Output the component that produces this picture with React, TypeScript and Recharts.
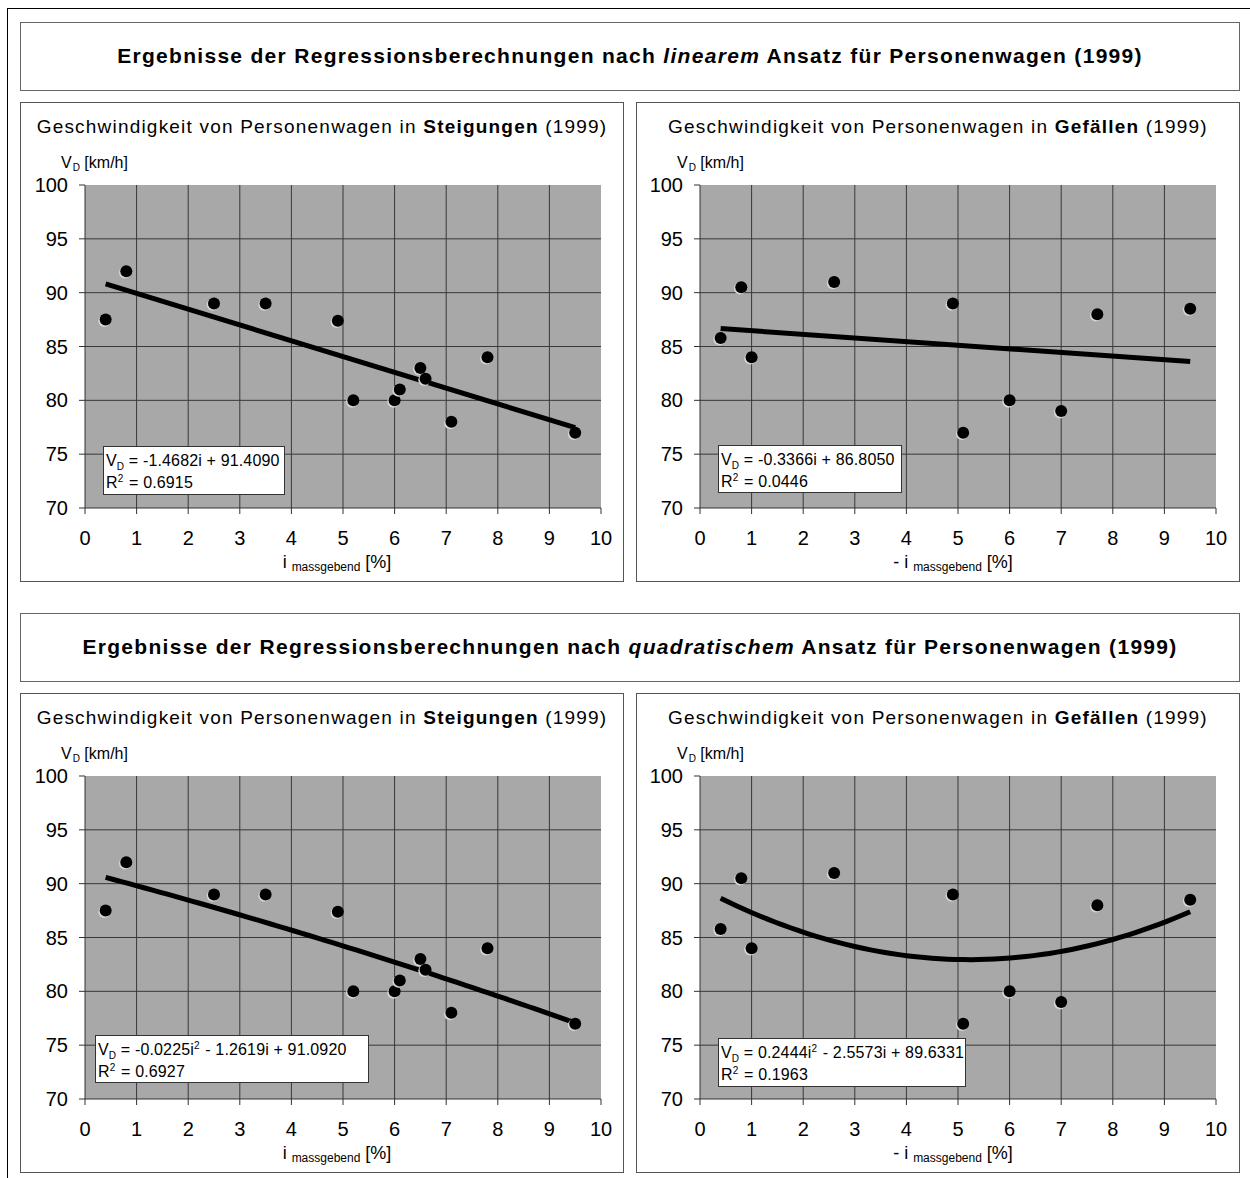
import React from 'react';
import { ScatterChart, Scatter, XAxis, YAxis, CartesianGrid } from 'recharts';

// Messwerte Personenwagen 1999: Längsneigung i [%] und Geschwindigkeit V_D [km/h]
const steigI = [0.4, 0.8, 2.5, 3.5, 4.9, 5.2, 6.0, 6.1, 6.5, 6.6, 7.1, 7.8, 9.5];
const steigV = [87.5, 92, 89, 89, 87.4, 80, 80, 81, 83, 82, 78, 84, 77];
const gefI = [0.4, 0.8, 1.0, 2.6, 4.9, 5.1, 6.0, 7.0, 7.7, 9.5];
const gefV = [85.8, 90.5, 84, 91, 89, 77, 80, 79, 88, 88.5];

// Regressionskoeffizienten [a, b, c] für V_D = a*i^2 + b*i + c
const linSteig = [0, -1.4682, 91.409];
const linGef = [0, -0.3366, 86.805];
const quadSteig = [-0.0225, -1.2619, 91.092];
const quadGef = [0.2444, -2.5573, 89.6331];

const r2LinSteig = '0.6915';
const r2LinGef = '0.0446';
const r2QuadSteig = '0.6927';
const r2QuadGef = '0.1963';

const xTicks = [0, 1, 2, 3, 4, 5, 6, 7, 8, 9, 10];
const yTicks = [70, 75, 80, 85, 90, 95, 100];

const FONT = '"Liberation Sans", Arial, sans-serif';

type Pt = { i: number; v: number };

const toPoints = (xs: number[], ys: number[]): Pt[] => xs.map((i, k) => ({ i, v: ys[k] }));

// Trendlinie aus den Koeffizienten über den Bereich der Messwerte
function trendPoints(coef: number[], xs: number[]): Pt[] {
  const lo = Math.min(...xs);
  const hi = Math.max(...xs);
  const n = coef[0] === 0 ? 1 : 60;
  const out: Pt[] = [];
  for (let k = 0; k <= n; k++) {
    const i = lo + ((hi - lo) * k) / n;
    out.push({ i, v: coef[0] * i * i + coef[1] * i + coef[2] });
  }
  return out;
}

const subStyle: React.CSSProperties = { fontSize: 10, position: 'relative', top: 4 };
const supStyle: React.CSSProperties = { fontSize: 10, position: 'relative', top: -6, marginRight: 1 };

function Equation({ coef }: { coef: number[] }) {
  const terms: { val: number; pow: number }[] = [];
  if (coef[0] !== 0) terms.push({ val: coef[0], pow: 2 });
  terms.push({ val: coef[1], pow: 1 });
  terms.push({ val: coef[2], pow: 0 });
  return (
    <>
      V<span style={subStyle}>D</span> ={' '}
      {terms.map((t, k) => {
        const num = Math.abs(t.val).toFixed(4);
        const sign = k === 0 ? (t.val < 0 ? '-' : '') : t.val < 0 ? ' - ' : ' + ';
        return (
          <React.Fragment key={k}>
            {sign}
            {num}
            {t.pow > 0 ? 'i' : ''}
            {t.pow === 2 ? <span style={supStyle}>2</span> : null}
          </React.Fragment>
        );
      })}
    </>
  );
}

const Dot = (props: any) => {
  const { cx, cy } = props;
  return (
    <g>
      <circle cx={cx - 1.3} cy={cy + 1.3} r={6} fill="#d6d6d6" />
      <circle cx={cx} cy={cy} r={6} fill="#000" />
    </g>
  );
};

const NoDot = () => <g />;

interface PanelProps {
  x: number;
  y: number;
  plotLeft: number;
  word: string;
  xPrefix: string;
  labelX: number;
  data: Pt[];
  coef: number[];
  r2: string;
  box: number[];
}

function Panel({ x, y, plotLeft, word, xPrefix, labelX, data, coef, r2, box }: PanelProps) {
  const W = 604;
  const H = 480;
  const trend = trendPoints(coef, data.map((d) => d.i));
  const tick = { fill: '#000', fontSize: 20, fontFamily: FONT };
  return (
    <>
      <div
        style={{
          position: 'absolute', left: x, top: y, width: W, height: H,
          border: '1px solid #555', boxSizing: 'border-box', background: '#fff',
        }}
      />
      <div
        style={{
          position: 'absolute', left: x, top: y + 14, width: W, textAlign: 'center',
          fontSize: 19, letterSpacing: 1.2, lineHeight: '22px', fontFamily: FONT, color: '#000',
          whiteSpace: 'nowrap',
        }}
      >
        Geschwindigkeit von Personenwagen in <b>{word}</b> (1999)
      </div>
      <div
        style={{
          position: 'absolute', left: x + 41, top: y + 51, fontSize: 16,
          lineHeight: '20px', fontFamily: FONT, color: '#000', whiteSpace: 'nowrap',
        }}
      >
        V<span style={{ fontSize: 10, position: 'relative', top: 3, marginLeft: 1 }}>D</span> [km/h]
      </div>
      <div style={{ position: 'absolute', left: x, top: y }}>
        <ScatterChart width={W} height={H} margin={{ top: 83, right: W - plotLeft - 516, bottom: 0, left: 0 }}>
          <CartesianGrid
            fill="#a8a8a8"
            fillOpacity={1}
            stroke="#383838"
            strokeWidth={1}
            horizontalValues={[75, 80, 85, 90, 95]}
            verticalValues={[1, 2, 3, 4, 5, 6, 7, 8, 9]}
          />
          <XAxis
            type="number"
            dataKey="i"
            domain={[0, 10]}
            ticks={xTicks}
            interval={0}
            height={H - 83 - 323}
            tickSize={6}
            tickMargin={17}
            axisLine={{ stroke: '#333' }}
            tickLine={{ stroke: '#333' }}
            tick={tick}
            allowDataOverflow
          />
          <YAxis
            type="number"
            dataKey="v"
            domain={[70, 100]}
            ticks={yTicks}
            interval={0}
            width={plotLeft}
            tickSize={6}
            tickMargin={11}
            axisLine={{ stroke: '#333' }}
            tickLine={{ stroke: '#333' }}
            tick={tick}
            allowDataOverflow
          />
          <Scatter
            data={trend}
            line={{ stroke: '#000', strokeWidth: 5 }}
            shape={NoDot}
            isAnimationActive={false}
          />
          <Scatter data={data} shape={Dot} isAnimationActive={false} />
        </ScatterChart>
      </div>
      <div
        style={{
          position: 'absolute', left: labelX - 150, top: y + 449, width: 300, textAlign: 'center',
          fontSize: 18, lineHeight: '22px', fontFamily: FONT, color: '#000', whiteSpace: 'nowrap',
        }}
      >
        {xPrefix}i <span style={{ fontSize: 12, position: 'relative', top: 3 }}>massgebend</span> [%]
      </div>
      <div
        style={{
          position: 'absolute', left: box[0], top: box[1], width: box[2], height: box[3],
          boxSizing: 'border-box', background: '#fff', border: '1px solid #333',
          padding: '4px 0 0 2px', fontSize: 16, letterSpacing: 0.15, lineHeight: '20px',
          fontFamily: FONT, color: '#000', whiteSpace: 'nowrap',
        }}
      >
        <div>
          <Equation coef={coef} />
        </div>
        <div>
          R<span style={supStyle}>2</span> = {r2}
        </div>
      </div>
    </>
  );
}

function TitleBox({ y, word }: { y: number; word: string }) {
  return (
    <div
      style={{
        position: 'absolute', left: 20, top: y, width: 1220, height: 69, border: '1px solid #666',
        boxSizing: 'border-box', textAlign: 'center', lineHeight: '65px', fontSize: 21,
        letterSpacing: 1.3, fontWeight: 'bold', fontFamily: FONT, color: '#000', whiteSpace: 'nowrap',
      }}
    >
      Ergebnisse der Regressionsberechnungen nach <i>{word}</i> Ansatz für Personenwagen (1999)
    </div>
  );
}

export default function App() {
  const steig = toPoints(steigI, steigV);
  const gef = toPoints(gefI, gefV);
  const dy = 591;
  return (
    <div style={{ position: 'absolute', left: 0, top: 0, width: 1250, height: 1178, overflow: 'hidden', background: '#fff' }}>
      <div
        style={{
          position: 'absolute', left: 7, top: 8, width: 1300, height: 1300,
          borderLeft: '1px solid #000', borderTop: '1px solid #000',
        }}
      />
      <TitleBox y={22} word="linearem" />
      <Panel x={20} y={102} plotLeft={65} word="Steigungen" xPrefix="" labelX={337}
        data={steig} coef={linSteig} r2={r2LinSteig} box={[103, 446, 182, 49]} />
      <Panel x={636} y={102} plotLeft={64} word="Gefällen" xPrefix="- " labelX={953}
        data={gef} coef={linGef} r2={r2LinGef} box={[718, 445, 184, 48]} />
      <TitleBox y={22 + dy} word="quadratischem" />
      <Panel x={20} y={102 + dy} plotLeft={65} word="Steigungen" xPrefix="" labelX={337}
        data={steig} coef={quadSteig} r2={r2QuadSteig} box={[95, 1035, 274, 48]} />
      <Panel x={636} y={102 + dy} plotLeft={64} word="Gefällen" xPrefix="- " labelX={953}
        data={gef} coef={quadGef} r2={r2QuadGef} box={[718, 1038, 248, 49]} />
    </div>
  );
}
